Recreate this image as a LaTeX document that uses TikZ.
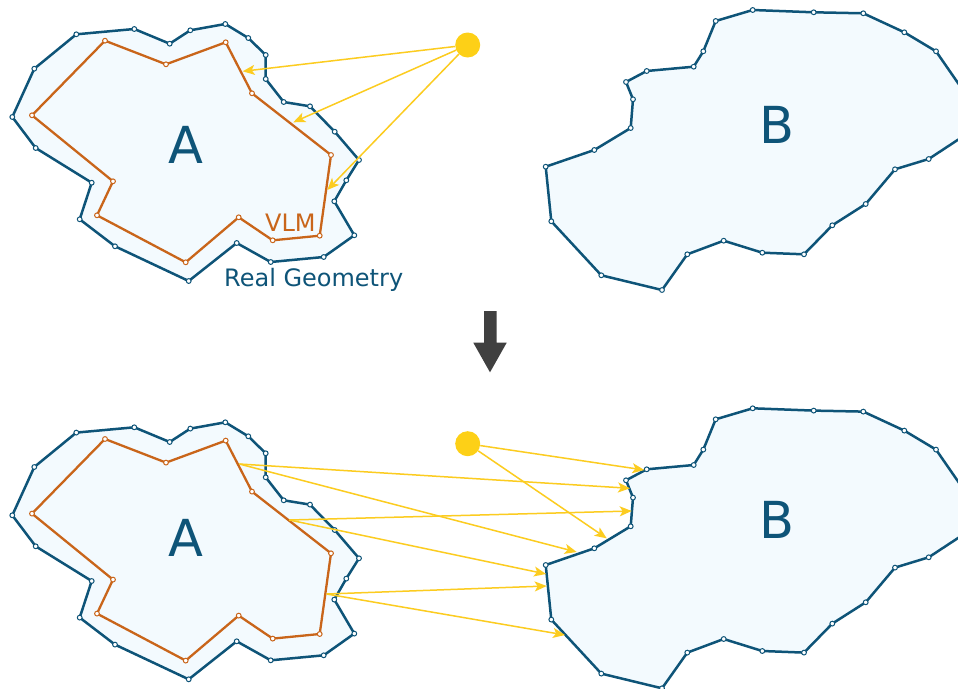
\documentclass[tikz,border=0pt]{standalone}
\usepackage{fontspec}
\newfontfamily\labfont{DejaVu Sans}
\usetikzlibrary{arrows.meta}
\definecolor{geo}{RGB}{14,84,120}
\definecolor{vlm}{RGB}{201,101,26}
\definecolor{geofill}{RGB}{243,250,254}
\definecolor{sunc}{RGB}{253,208,23}
\definecolor{rayc}{RGB}{252,204,32}
\definecolor{darrow}{RGB}{64,64,64}
\tikzset{
  geoline/.style={draw=geo, line width=2.5pt, line join=round, fill=geofill},
  vlmline/.style={draw=vlm, line width=2.3pt, line join=round},
  geodot/.style={draw=geo, fill=white, line width=1pt},
  vlmdot/.style={draw=vlm, fill=white, line width=1pt},
  sunnode/.style={circle, fill=sunc, draw=none, minimum size=25pt, inner sep=0pt},
  ray/.style={draw=rayc, line width=1.5pt, -{Stealth[length=12pt,width=10pt,inset=3pt]}},
  biglabel/.style={text=geo, font=\labfont\fontsize{51}{51}\selectfont, inner sep=0pt, anchor=base},
  smalllabel/.style={font=\labfont\fontsize{24}{24}\selectfont, inner sep=0pt, anchor=base west}
}
\newcommand{\drawgeom}{%
  % polygon A (real geometry)
  \draw[geoline] (76.3,34.3) -- (134.3,29) -- (169.7,43.7) -- (190.3,30.3) -- (225.3,24) -- (248.3,38) -- (265.7,55) -- (265.7,79) -- (283.7,102) -- (310,106.3) -- (334.7,131.7) -- (359,160) -- (346.3,180.3) -- (334.3,201.3) -- (354.3,235.3) -- (323.7,257) -- (270.7,262) -- (236.7,243) -- (188.7,281) -- (115,246.3) -- (79.7,219.3) -- (91.7,182.7) -- (35.7,148) -- (12.3,117) -- (34.3,68.7) -- cycle;
  % VLM polygon
  \draw[vlmline] (105,40.7) -- (166,64.3) -- (225.7,42.3) -- (252,93.3) -- (331,155) -- (319.7,235.7) -- (272.7,240.3) -- (238.7,217.3) -- (185.7,262.3) -- (97,215.3) -- (113,181.3) -- (32,115.3) -- cycle;
  % polygon B
  \draw[geoline] (752.7,10) -- (813.7,12.3) -- (863.3,13.3) -- (904.3,32.3) -- (936,51.3) -- (985,122) -- (928.7,159) -- (895,169.3) -- (865.7,204) -- (832.3,225.3) -- (804,254.3) -- (762.3,252.7) -- (723.7,240.7) -- (687.3,254.3) -- (662,290) -- (601.3,275.3) -- (551.3,221.3) -- (545.7,166.7) -- (594.3,150) -- (630.7,128) -- (633,99.3) -- (626,82) -- (646.7,71) -- (693.7,66.7) -- (703.3,51.3) -- (715.7,21) -- cycle;
  \foreach \p in {(76.3,34.3),(134.3,29),(169.7,43.7),(190.3,30.3),(225.3,24),(248.3,38),(265.7,55),(265.7,79),(283.7,102),(310,106.3),(334.7,131.7),(359,160),(346.3,180.3),(334.3,201.3),(354.3,235.3),(323.7,257),(270.7,262),(236.7,243),(188.7,281),(115,246.3),(79.7,219.3),(91.7,182.7),(35.7,148),(12.3,117),(34.3,68.7),
    (752.7,10),(813.7,12.3),(863.3,13.3),(904.3,32.3),(936,51.3),(928.7,159),(895,169.3),(865.7,204),(832.3,225.3),(804,254.3),(762.3,252.7),(723.7,240.7),(687.3,254.3),(662,290),(601.3,275.3),(551.3,221.3),(545.7,166.7),(594.3,150),(630.7,128),(633,99.3),(626,82),(646.7,71),(693.7,66.7),(703.3,51.3),(715.7,21)}
    {\draw[geodot] \p circle (2.4pt);}
  \foreach \p in {(105,40.7),(166,64.3),(225.7,42.3),(252,93.3),(331,155),(319.7,235.7),(272.7,240.3),(238.7,217.3),(185.7,262.3),(97,215.3),(113,181.3),(32,115.3)}
    {\draw[vlmdot] \p circle (2.4pt);}
}
\begin{document}
\begin{tikzpicture}[x=1pt,y=-1pt]
\useasboundingbox (0,0) rectangle (958,688);
\clip (0,0) rectangle (958,688);
\fill[white] (0,0) rectangle (958,688);
% ---------- top ----------
\begin{scope}
  \drawgeom
\end{scope}
\node[biglabel] (labA1) at (185.7,163.3) {A};
\node[biglabel] (labB1) at (776.7,143.3) {B};
\node[smalllabel, text=vlm] (labVLM) at (265,231) {VLM};
\node[smalllabel, text=geo] (labReal) at (224,286) {Real Geometry};
\node[sunnode] (sun1) at (467.7,45) {};
\coordinate (t1) at (242.7,71.3);
\coordinate (t2) at (293.3,122.3);
\coordinate (t3) at (327.3,190);
\draw[ray] (sun1) -- (t1);
\draw[ray] (sun1) -- (t2);
\draw[ray] (sun1) -- (t3);
% ---------- down arrow ----------
\fill[darrow] (484,311) -- (496.7,311) -- (496.7,342.7) -- (506.7,342.7) -- (490,372.3) -- (473.3,342.7) -- (484,342.7) -- cycle;
% ---------- bottom ----------
\begin{scope}[shift={(0,398.3)}]
  \drawgeom
\end{scope}
\node[biglabel] (labA2) at (185.7,556.7) {A};
\node[biglabel] (labB2) at (776.7,538.3) {B};
\node[sunnode] (sun2) at (467.7,443.7) {};
\coordinate (p1) at (239.3,464);
\coordinate (p2) at (289.3,520);
\coordinate (p3) at (326.7,594);
\coordinate (b1) at (644.3,470);
\coordinate (b2) at (606.7,538.3);
\coordinate (c1) at (630,488.3);
\coordinate (c2) at (576.7,552);
\coordinate (c3) at (631.7,511);
\coordinate (c4) at (546,574);
\coordinate (c5) at (546.7,586);
\coordinate (c6) at (565,635);
\draw[ray] (sun2) -- (b1);
\draw[ray] (sun2) -- (b2);
\draw[ray] (p1) -- (c1);
\draw[ray] (p1) -- (c2);
\draw[ray] (p2) -- (c3);
\draw[ray] (p2) -- (c4);
\draw[ray] (p3) -- (c5);
\draw[ray] (p3) -- (c6);
\end{tikzpicture}
\end{document}
